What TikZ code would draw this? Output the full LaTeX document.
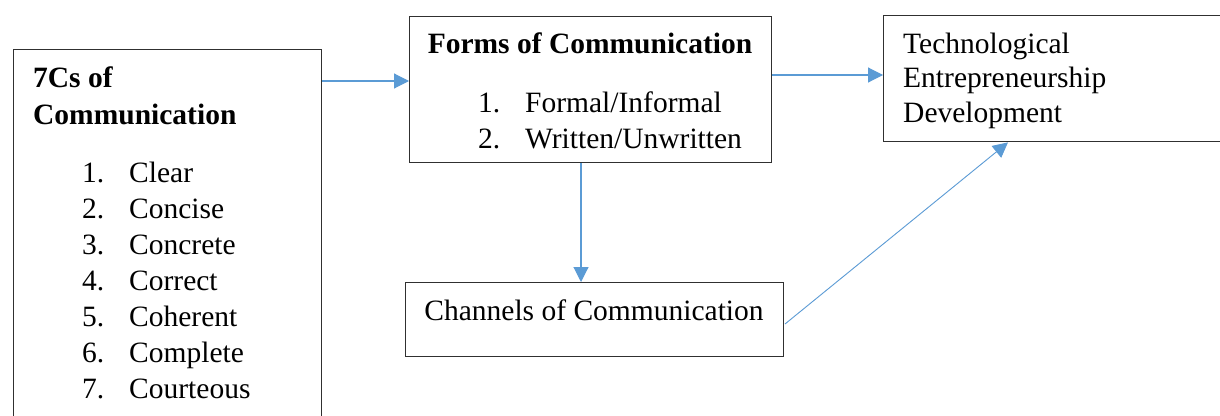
\documentclass[tikz,border=0pt]{standalone}
\usepackage{fontspec}
\setmainfont{LiberationSerif}[Extension=.ttf, UprightFont=*-Regular, BoldFont=*-Bold, ItalicFont=*-Italic, BoldItalicFont=*-BoldItalic]
\usetikzlibrary{arrows.meta}
\definecolor{arrowblue}{HTML}{5B9BD5}
\definecolor{boxline}{HTML}{303030}
\tikzset{
  boxstyle/.style={draw=boxline, line width=1.4pt, fill=none, inner sep=0pt, anchor=north west},
  txt/.style={anchor=base west, inner sep=0pt, font=\rmfamily\fontsize{29.5pt}{36pt}\selectfont},
  btxt/.style={txt, font=\rmfamily\fontsize{29.5pt}{36pt}\selectfont\bfseries},
  link/.style={draw=arrowblue, line width=1.1pt, -{Triangle[length=15pt,width=15pt]}},
}
\begin{document}
\begin{tikzpicture}[x=1pt,y=-1pt]
\clip (0,0) rectangle (1220,415);
\fill[white] (0,0) rectangle (1220,415);
% boxes
\node[boxstyle, minimum width=308pt, minimum height=400pt] (sevenc) at (13,49) {};
\node[boxstyle, minimum width=362pt, minimum height=146pt] (forms) at (409,16) {};
\node[boxstyle, minimum width=360pt, minimum height=126pt] (tech) at (883,15) {};
\node[boxstyle, minimum width=378pt, minimum height=74pt] (chan) at (405,282) {};
% left box text
\node[btxt] (h1) at (33,87) {7Cs of};
\node[btxt] (h2) at (33,124) {Communication};
\foreach \i/\w [count=\k] in {1/Clear,2/Concise,3/Concrete,4/Correct,5/Coherent,6/Complete,7/Courteous}{
  \node[txt] (n\k) at (82,{182+36*(\k-1)}) {\i.};
  \node[txt] (c\k) at (129,{182+36*(\k-1)}) {\w};
}
% forms text
\node[btxt, anchor=base] (ftitle) at (590,53) {Forms of Communication};
\node[txt] (fn1) at (478,112) {1.};
\node[txt] (f1) at (525,112) {Formal/Informal};
\node[txt] (fn2) at (478,148) {2.};
\node[txt] (f2) at (525,148) {Written/Unwritten};
% tech text
\node[txt] (t1) at (903,53) {Technological};
\node[txt] (t2) at (903,87) {Entrepreneurship};
\node[txt] (t3) at (903,122) {Development};
% channels text
\node[txt, anchor=base] (ctext) at (594,320) {Channels of Communication};
% connectors
\coordinate (a1s) at (sevenc.north east |- 0,81);
\coordinate (a1e) at (forms.west |- 0,81);
\draw[link] (a1s) -- (a1e);
\coordinate (a2s) at (forms.east |- 0,75);
\coordinate (a2e) at (tech.west |- 0,75);
\draw[link] (a2s) -- (a2e);
\coordinate (a3s) at (581,0 |- forms.south);
\coordinate (a3e) at (581,0 |- chan.north);
\draw[link] (a3s) -- (a3e);
\coordinate (a4s) at (785,324);
\coordinate (a4e) at (1008,0 |- tech.south);
\draw[link, line width=0.9pt] (a4s) -- (a4e);
\end{tikzpicture}
\end{document}
